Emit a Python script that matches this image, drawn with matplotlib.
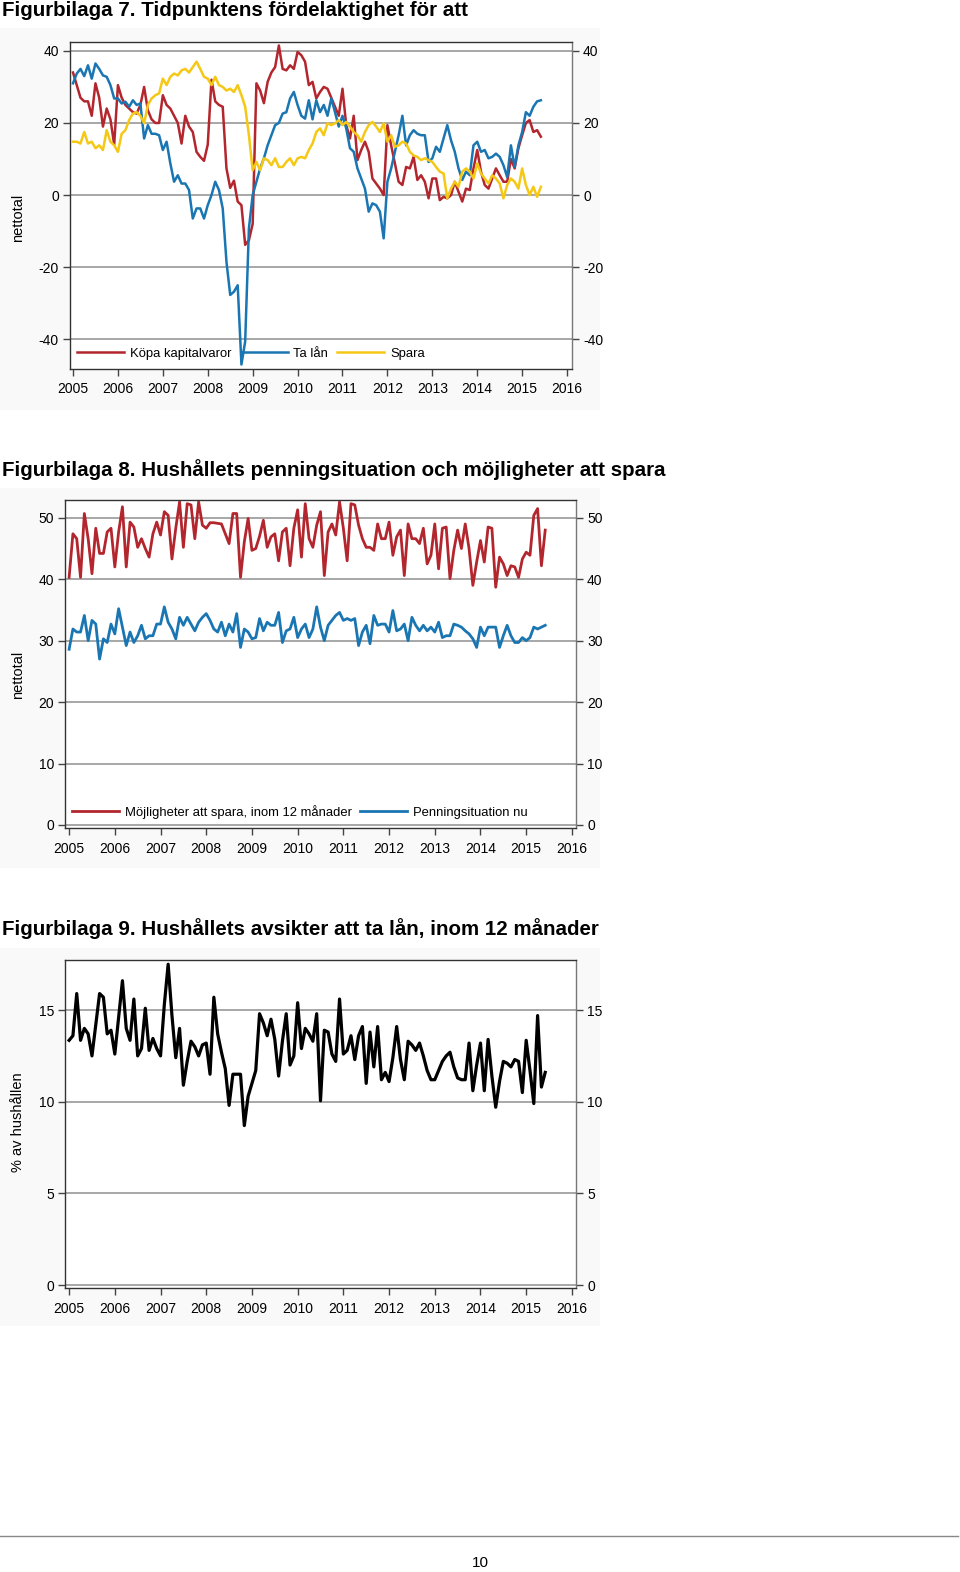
import numpy as np
import matplotlib
matplotlib.use("Agg")
import matplotlib.pyplot as plt
from matplotlib.patches import Rectangle

plt.rcParams['font.family'] = ['Liberation Sans', 'DejaVu Sans']

W, H = 960, 1572

# Figurbilaga 7 -- monthly values, jan 2005 - jun 2015
kopa = [34, 30.5, 27, 26, 26, 22, 31, 27, 19, 24, 21, 14,
        30.5, 27, 25, 24, 23, 22.6, 25, 30, 23.5, 21, 20, 20,
        27.7, 25, 24, 22, 20, 14.3, 22, 19, 17.5, 12, 10.6, 9.5,
        14, 32, 26, 25, 24.5, 7.4, 2, 4, -1.8, -2.8, -13.8, -12.5,
        -8, 31, 29, 25.5, 31.4, 34, 35.5, 41.5, 35, 34.6, 36, 35,
        39.7, 38.8, 37, 30.5, 31.4, 26.8, 28.6, 30, 29.5, 27, 24.5, 22,
        29.5, 19.4, 15.7, 22, 9.7, 12.5, 14.8, 12, 4.6, 3.2, 1.8, 0,
        19.4, 13.8, 8.8, 3.7, 2.8, 7.8, 7.4, 10.6, 4.2, 5.5, 3.7, -0.9,
        4.6, 4.6, -1.4, -0.5, -0.9, 0, 3.7, 0.9, -1.8, 1.8, 1.4, 7.4,
        12.5, 6.5, 2.8, 1.8, 4.6, 7.4, 5.5, 3.7, 3.7, 10, 7.4, 13,
        16.6, 20, 20.8, 17.5, 18, 16.2]
ta_lan = [31, 33.7, 35, 33, 36, 32.3, 36.5, 35, 33.2, 32.8, 30.5, 26.8,
          26.8, 25.4, 25.9, 24.5, 26.3, 25, 25.4, 15.7, 19.4, 17, 17, 16.6,
          12.5, 14.8, 8.8, 3.7, 5.5, 3.2, 3.2, 1.4, -6.5, -3.7, -3.7, -6.5,
          -2.8, 0, 3.7, 1.4, -3.7, -18.5, -27.7, -26.8, -25, -47, -40.6, -9.2,
          0, 3.7, 7.4, 10.2, 13.8, 16.6, 19.4, 20, 22.6, 23, 26.8, 28.6,
          25, 22, 21.2, 26.3, 21, 26.3, 23, 25, 22, 26.8, 23, 19,
          22, 18.5, 13, 12, 7.4, 4.6, 1.8, -4.6, -2.3, -2.8, -4.6, -12,
          3.7, 7.4, 12, 16.6, 22, 13.8, 16.6, 18, 17, 16.6, 16.6, 9.2,
          10.2, 13.4, 12, 15.7, 19.4, 15.2, 12, 7.4, 4.2, 6.5, 5.5, 13.8,
          14.8, 12, 12.5, 10.2, 10.6, 11.5, 10.6, 8.3, 5, 13.8, 7.8, 13.8,
          17.5, 23, 22, 24.5, 26, 26.3]
spara = [14.8, 14.8, 14.3, 17.5, 14.3, 14.8, 13, 13.8, 12.5, 18, 14.8, 13.8,
         12, 17, 18, 20.8, 22.6, 23, 22, 19.9, 25, 26.8, 27.7, 28.2,
         32.3, 30.5, 32.8, 33.7, 33.2, 34.6, 35, 34, 35.5, 37, 35, 32.8,
         32.3, 30.5, 32.8, 30.5, 30, 29, 29.5, 28.6, 30.5, 27.7, 24.5, 16.6,
         6.9, 9.2, 6.9, 10.2, 9.7, 8.3, 10.2, 7.8, 7.8, 9.2, 10.2, 8.3,
         10.2, 10.6, 10.2, 12.5, 14.3, 17.5, 18.5, 16.6, 19.9, 19.4, 19.9, 20.8,
         19.4, 20.3, 19, 17.5, 16.6, 14.8, 17.5, 19.4, 20.3, 19, 17.5, 19.9,
         14.8, 16.6, 13.4, 13.8, 14.8, 14.3, 12, 11, 10.6, 9.7, 10.2, 9.7,
         9.2, 7.8, 6.5, 6, -0.9, 1.8, 3.7, 2.3, 6.5, 7.4, 6.5, 4.6,
         8.8, 6, 4.6, 3.2, 5.5, 4.6, 3.2, -0.9, 2.8, 4.6, 3.7, 1.8,
         7.4, 2.8, 0, 2.3, -0.5, 2.3]

# Figurbilaga 8
mojligheter = [40.3, 47.4, 46.6, 40.3, 50.7, 46.6, 40.9, 48.3, 44.2, 44.2, 47.7, 48.3,
               42, 47.7, 51.8, 42, 49.3, 48.5, 45.2, 46.6, 45, 43.6, 47.4, 49.3,
               47.2, 51, 50.4, 43.3, 48.3, 52.6, 45.2, 52.3, 52.1, 46.6, 52.6, 48.8,
               48.3, 49.2, 49.2, 49.1, 49, 47.4, 45.8, 50.7, 50.7, 40.3, 46.1, 49.9,
               44.7, 45, 47, 49.6, 45.2, 46.9, 47.4, 43, 47.7, 48.3, 42.2, 48.3,
               51.3, 43.6, 52.3, 46.6, 45.2, 48.8, 51, 40.6, 47.7, 49, 47.2, 52.6,
               48.3, 43, 52.3, 52.1, 48.8, 46.6, 45.2, 45.2, 44.7, 49, 46.6, 46.6,
               49.3, 43.9, 46.9, 48, 40.6, 49, 46.6, 46.6, 45.8, 48.3, 42.5, 43.9,
               49, 41.7, 48.3, 48.5, 40.1, 44.7, 48, 45, 49, 45, 39, 42.8,
               46.3, 42.8, 48.5, 48.3, 38.7, 43.6, 42.5, 40.6, 42.2, 42, 40.3, 43.3,
               44.4, 43.9, 50.4, 51.5, 42.2, 48]
penning = [28.6, 31.9, 31.4, 31.4, 34.1, 30, 33.3, 32.7, 27, 30.3, 29.7, 32.7,
           31.1, 35.2, 32.2, 29.2, 31.4, 29.7, 30.8, 32.5, 30.3, 30.8, 30.8, 32.7,
           32.7, 35.5, 33, 31.9, 30.3, 33.8, 32.5, 33.8, 32.7, 31.6, 33, 33.8,
           34.4, 33.3, 31.9, 31.4, 33, 30.8, 32.7, 31.4, 34.4, 28.9, 31.9, 31.4,
           30.3, 30.5, 33.6, 31.6, 33, 32.5, 32.5, 34.6, 29.7, 31.6, 31.9, 33.8,
           30.5, 31.9, 32.7, 30.5, 31.9, 35.5, 32.2, 30, 32.5, 33.3, 34.1, 34.6,
           33.3, 33.6, 33.3, 33.6, 29.2, 31.4, 32.5, 29.5, 34.1, 32.5, 32.7, 32.7,
           31.4, 34.9, 31.6, 31.9, 32.7, 30, 33.8, 32.5, 31.6, 32.5, 31.6, 32.2,
           31.4, 33, 30.5, 30.8, 30.8, 32.7, 32.5, 32.2, 31.6, 31.1, 30.3, 28.9,
           32.2, 30.8, 32.2, 32.2, 32.2, 28.9, 30.8, 32.5, 30.8, 29.7, 29.7, 30.5,
           30, 30.5, 32.2, 31.9, 32.2, 32.5]

# Figurbilaga 9
ta_lan_12m = [13.35, 13.6, 15.9, 13.35, 14, 13.7, 12.5, 14.2, 15.9, 15.7, 13.7, 13.9,
              12.6, 14.6, 16.6, 14, 13.35, 15.6, 12.5, 12.9, 15.1, 12.8, 13.45, 12.9,
              12.5, 15.3, 17.5, 14.7, 12.4, 14, 10.9, 12.2, 13.3, 13, 12.5, 13.1,
              13.2, 11.5, 15.7, 13.7, 12.7, 11.8, 9.8, 11.5, 11.5, 11.5, 8.7, 10.3,
              11, 11.7, 14.8, 14.3, 13.6, 14.5, 13.4, 11.4, 13.3, 14.8, 12, 12.5,
              15.4, 12.9, 14, 13.7, 13.3, 14.8, 10.05, 13.9, 13.8, 12.6, 12.2, 15.6,
              12.6, 12.8, 13.6, 12.3, 13.6, 14.1, 11, 13.8, 11.9, 14.1, 11.2, 11.6,
              11.1, 12.4, 14.1, 12.3, 11.2, 13.3, 13.1, 12.8, 13.2, 12.5, 11.7, 11.2,
              11.2, 11.7, 12.2, 12.5, 12.7, 11.9, 11.3, 11.2, 11.2, 13.2, 10.6, 12,
              13.2, 10.6, 13.4, 11.4, 9.7, 11.1, 12.2, 12.1, 11.9, 12.3, 12.2, 10.5,
              13.35, 11.7, 9.9, 14.7, 10.8, 11.6]

years = list(range(2005, 2017))

RED = '#b3262e'
BLUE = '#1a76b2'
YELLOW = '#f5c816'


def months(values):
    return 2005 + np.arange(len(values)) / 12.0


def px_axes(fig, left, top, right, bottom):
    ax = fig.add_axes([left / W, 1 - bottom / H, (right - left) / W, (bottom - top) / H])
    ax.set_zorder(2)
    ax.set_facecolor('white')
    return ax


def style_axes(ax, xlim, ylim, yticks):
    ax.set_xlim(*xlim)
    ax.set_ylim(*ylim)
    ax.set_xticks(years)
    ax.set_xticklabels([str(y) for y in years])
    ax.set_yticks(yticks)
    ax.set_yticklabels([str(v) for v in yticks])
    ax.tick_params(axis='both', direction='out', length=5, width=1,
                   color='#444444', labelsize=10, pad=3)
    ax.tick_params(axis='x', pad=5)
    ax.tick_params(axis='y', right=True, labelright=True)
    ax.grid(axis='y', color='#a0a0a0', lw=1.3)
    ax.grid(axis='x', visible=False)
    ax.set_axisbelow(True)
    for side in ['left', 'right', 'top', 'bottom']:
        ax.spines[side].set_color('#333333')
        ax.spines[side].set_linewidth(1)
    ax.spines['right'].set_color('#777777')


fig = plt.figure(figsize=(W / 100, H / 100), dpi=100)
fig.patch.set_facecolor('white')

# faint panel backgrounds behind each chart
for top, bottom in [(28, 410), (488, 868), (948, 1326)]:
    fig.patches.append(Rectangle((0, 1 - bottom / H), 600 / W, (bottom - top) / H,
                                 transform=fig.transFigure, facecolor='#f9f9f9',
                                 edgecolor='none', zorder=-1))

# titles
title_kw = dict(fontsize=14.8, fontweight='bold', va='center', ha='left')
fig.text(2 / W, 1 - 11 / H, 'Figurbilaga 7. Tidpunktens fördelaktighet för att', **title_kw)
fig.text(2 / W, 1 - 470 / H, 'Figurbilaga 8. Hushållets penningsituation och möjligheter att spara', **title_kw)
fig.text(2 / W, 1 - 929 / H, 'Figurbilaga 9. Hushållets avsikter att ta lån, inom 12 månader', **title_kw)

leg_kw = dict(loc='center left', frameon=False, fontsize=9.4, handlelength=3.6,
              handletextpad=0.45, borderaxespad=0, borderpad=0)

# chart 7
ax1 = px_axes(fig, 70, 41.5, 572, 368.5)
ax1.plot(months(kopa), kopa, color=RED, lw=1.8, label='Köpa kapitalvaror')
ax1.plot(months(ta_lan), ta_lan, color=BLUE, lw=1.8, label='Ta lån')
ax1.plot(months(spara), spara, color=YELLOW, lw=1.8, label='Spara')
style_axes(ax1, (2004.933, 2016.11), (-48.1, 42.6), [-40, -20, 0, 20, 40])
ax1.legend(bbox_to_anchor=(0.014, 0.046), ncol=3, columnspacing=0.7, **leg_kw)
fig.text(18 / W, 1 - 218 / H, 'nettotal', rotation=90, fontsize=10.5, ha='center', va='center')

# chart 8
ax2 = px_axes(fig, 65, 500, 576, 828)
ax2.plot(months(mojligheter), mojligheter, color=RED, lw=2,
         label='Möjligheter att spara, inom 12 månader')
ax2.plot(months(penning), penning, color=BLUE, lw=2, label='Penningsituation nu')
style_axes(ax2, (2004.91, 2016.09), (-0.5, 52.9), [0, 10, 20, 30, 40, 50])
ax2.legend(bbox_to_anchor=(0.014, 0.049), ncol=2, columnspacing=0.6, **leg_kw)
fig.text(18 / W, 1 - 675 / H, 'nettotal', rotation=90, fontsize=10.5, ha='center', va='center')

# chart 9
ax3 = px_axes(fig, 65, 960, 576, 1288)
ax3.plot(months(ta_lan_12m), ta_lan_12m, color='black', lw=2.3)
style_axes(ax3, (2004.91, 2016.09), (-0.16, 17.73), [0, 5, 10, 15])
fig.text(18 / W, 1 - 1122 / H, '% av hushållen', rotation=90, fontsize=10.5, ha='center', va='center')

# footer
fig.add_artist(plt.Line2D([0, 958 / W], [1 - 1536 / H, 1 - 1536 / H],
                          transform=fig.transFigure, color='#888888', lw=1))
fig.text(480 / W, 1 - 1563 / H, '10', fontsize=11, ha='center', va='center')

fig.savefig('out.png', dpi=100)
